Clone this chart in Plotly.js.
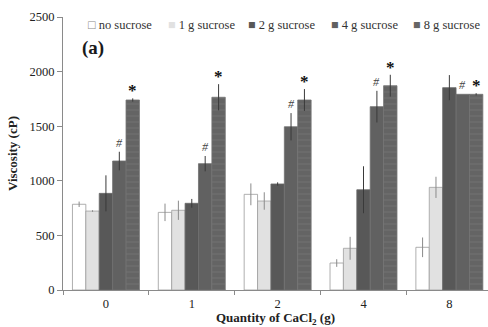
<!DOCTYPE html>
<html><head><meta charset="utf-8">
<script src="https://cdn.plot.ly/plotly-3.0.1.min.js"></script>
<style>html,body{margin:0;padding:0;background:#fff}#chart{width:488px;height:327px}</style>
</head><body><div id="chart"></div>
<script>
const categories = ['0', '1', '2', '4', '8'];
const seriesNames = ['no sucrose', '1 g sucrose', '2 g sucrose', '4 g sucrose', '8 g sucrose'];
const noSucrose = [785, 711, 876, 247, 391];
const noSucroseErr = [25, 80, 100, 35, 90];
const sucrose1 = [723, 730, 815, 382, 940];
const sucrose1Err = [8, 88, 80, 105, 97];
const sucrose2 = [885, 794, 971, 918, 1853];
const sucrose2Err = [165, 40, 15, 215, 115];
const sucrose4 = [1181, 1157, 1495, 1679, 1792];
const sucrose4Err = [85, 70, 125, 145, 0];
const sucrose8 = [1740, 1765, 1740, 1871, 1792];
const sucrose8Err = [15, 120, 100, 100, 10];
const hashMarks = ['#', '#', '#', '#', '#'];   // over 4 g sucrose bars
const starMarks = ['*', '*', '*', '*', '*'];   // over 8 g sucrose bars

const serif = 'Liberation Serif, Times New Roman, serif';
const values = [noSucrose, sucrose1, sucrose2, sucrose4, sucrose8];
const errs = [noSucroseErr, sucrose1Err, sucrose2Err, sucrose4Err, sucrose8Err];
const fills = ['#ffffff', '#e1e1e1', '#585858', '#616161', '#666666'];
const edges = ['#9a9a9a', '#a0a0a0', '#6a6a6a', '#707070', '#737373'];
const errCols = ['#8a8a8a', '#8a8a8a', '#3a3a3a', '#3a3a3a', '#3a3a3a'];

const traces = values.map((v, i) => {
  const t = {
    type: 'bar', name: seriesNames[i], x: categories, y: v,
    marker: {color: fills[i], line: {color: edges[i], width: 0.8}},
    error_y: {type: 'data', array: errs[i], visible: true, color: errCols[i], thickness: 1, width: 0},
    showlegend: false
  };
  if (i === 4) {
    t.marker.pattern = {shape: '-', fgcolor: '#747474', bgcolor: '#646464', size: 6, solidity: 0.15, fillmode: 'replace'};
  }
  return t;
});

const bargap = 0.22;
const nb = 5;
const bw = (1 - bargap) / nb;
function offset(i) { return -(1 - bargap) / 2 + bw * (i + 0.5); }

const annotations = [];
categories.forEach((c, k) => {
  annotations.push({x: k + offset(3), y: sucrose4[k] + sucrose4Err[k], xref: 'x', yref: 'y',
    text: '<i>' + hashMarks[k] + '</i>', showarrow: false, yanchor: 'bottom', yshift: 0,
    font: {family: serif, size: 12, color: '#444'}});
  annotations.push({x: k + offset(4), y: sucrose8[k] + sucrose8Err[k], xref: 'x', yref: 'y',
    text: '<b>' + starMarks[k] + '</b>', showarrow: false, yanchor: 'bottom', yshift: -4,
    font: {family: serif, size: 17, color: '#111'}});
});
annotations.push({x: 0.04, y: 0.885, xref: 'paper', yref: 'paper', xanchor: 'left', yanchor: 'middle',
  text: '<b>(a)</b>', showarrow: false, font: {family: serif, size: 19, color: '#1a1a1a'}});

// legend row drawn as text
const legendX = [86, 166, 246, 329, 411];
const symColors = ['#ffffff', '#e1e1e1', '#585858', '#616161', '#666666'];
seriesNames.forEach((n, i) => {
  const sym = i === 0 ? '<span style="color:#888">□</span>' : '<span style="color:' + symColors[i] + '">■</span>';
  annotations.push({x: (legendX[i] - 63) / 425, y: (290 - 25) / 273, xref: 'paper', yref: 'paper',
    xanchor: 'left', yanchor: 'middle', showarrow: false, text: sym + ' ' + n,
    font: {family: serif, size: 12.5, color: '#333'}});
});

const layout = {
  width: 488, height: 327,
  margin: {l: 63, r: 0, t: 17, b: 37},
  paper_bgcolor: '#fff', plot_bgcolor: '#fff',
  barmode: 'group', bargap: bargap, bargroupgap: 0,
  font: {family: serif, color: '#222'},
  showlegend: false,
  xaxis: {
    type: 'category', range: [-0.5, 4.45], showgrid: false, zeroline: false,
    showline: true, linecolor: '#8a8a8a', linewidth: 1,
    ticks: 'outside', tickson: 'boundaries', ticklen: 4, tickcolor: '#8a8a8a',
    ticklabelstandoff: 2,
    tickfont: {family: serif, size: 12.5, color: '#222'},
    title: {text: '<b>Quantity of CaCl<sub>2</sub> (g)</b>', font: {family: serif, size: 13, color: '#222'}, standoff: 6}
  },
  yaxis: {
    range: [0, 2500], tickvals: [0, 500, 1000, 1500, 2000, 2500],
    showgrid: false, zeroline: false, showline: true, linecolor: '#8a8a8a', linewidth: 1,
    ticks: 'outside', ticklen: 5, tickcolor: '#8a8a8a',
    tickfont: {family: serif, size: 12.5, color: '#222'},
    title: {text: '<b>Viscosity (cP)</b>', font: {family: serif, size: 13, color: '#222'}, standoff: 8}
  },
  annotations: annotations
};

Plotly.newPlot('chart', traces, layout, {staticPlot: true, displayModeBar: false});
</script>
</body></html>
